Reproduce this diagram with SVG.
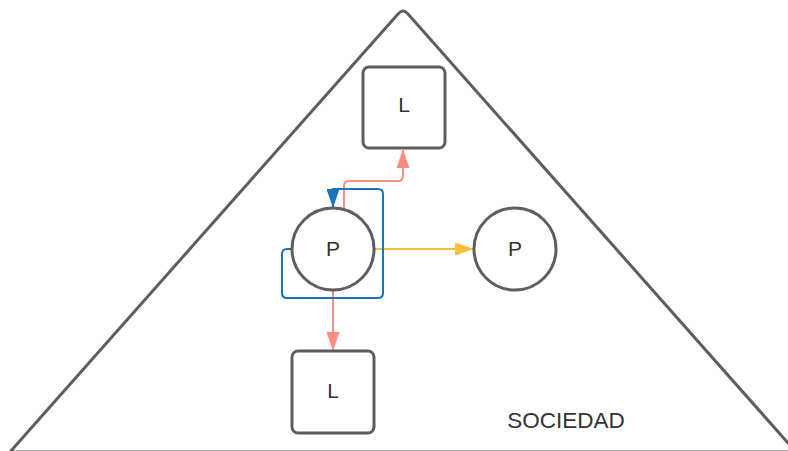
<svg xmlns="http://www.w3.org/2000/svg" width="788" height="451" viewBox="0 0 788 451">
<style>
.shape{fill:#fff;stroke:#5e5e5e;stroke-width:3}
.lbl{font-family:"Liberation Sans",Arial,sans-serif;font-size:21px;fill:#333;text-anchor:middle;dominant-baseline:central}
.red{fill:none;stroke:#f98e80;stroke-width:2}
.blue{fill:none;stroke:#1a74b9;stroke-width:2}
.yel{fill:none;stroke:#f8bf3c;stroke-width:2}
</style>
<defs>
<marker id="mr" markerWidth="19" markerHeight="13" refX="18" refY="6.5" orient="auto" markerUnits="userSpaceOnUse" viewBox="0 0 19 13"><path d="M0,0 L19,6.5 L0,13 Z" fill="#f98e80"/></marker>
<marker id="mb" markerWidth="19" markerHeight="13" refX="18" refY="6.5" orient="auto" markerUnits="userSpaceOnUse" viewBox="0 0 19 13"><path d="M0,0 L19,6.5 L0,13 Z" fill="#1a74b9"/></marker>
<marker id="my" markerWidth="19" markerHeight="13" refX="18" refY="6.5" orient="auto" markerUnits="userSpaceOnUse" viewBox="0 0 19 13"><path d="M0,0 L19,6.5 L0,13 Z" fill="#f8bf3c"/></marker>
</defs>
<g id="sociedad">
<path class="shape" d="M10,452 L398,14 Q403,8 408,14 L796,452 Z" stroke-linejoin="round"/>
<text class="lbl" x="566" y="420" style="font-size:22.5px">SOCIEDAD</text>
</g>
<g id="connectors">
<path class="red" d="M344,209 L344,186 Q344,181 349,181 L398,181 Q403,181 403,176 L403,150" marker-end="url(#mr)"/>
<path class="red" d="M333,291 L333,350" marker-end="url(#mr)"/>
<path class="yel" d="M374,249 L473,249" marker-end="url(#my)"/>
<path class="blue" d="M292,249 L287,249 Q282,249 282,254 L282,293 Q282,298 287,298 L378,298 Q383,298 383,293 L383,194 Q383,189 378,189 L333,189 L333,207" marker-end="url(#mb)"/>
</g>
<g id="L_top">
<rect class="shape" x="363" y="67" width="82" height="81" rx="6"/>
<text class="lbl" x="404" y="104">L</text>
</g>
<g id="P_left">
<circle class="shape" cx="333" cy="249" r="41" style="fill:none"/>
<text class="lbl" x="333" y="248">P</text>
</g>
<g id="P_right">
<circle class="shape" cx="515" cy="249" r="41"/>
<text class="lbl" x="515" y="248">P</text>
</g>
<g id="L_bottom">
<rect class="shape" x="292" y="351" width="82" height="82" rx="6"/>
<text class="lbl" x="333" y="390">L</text>
</g>
</svg>
